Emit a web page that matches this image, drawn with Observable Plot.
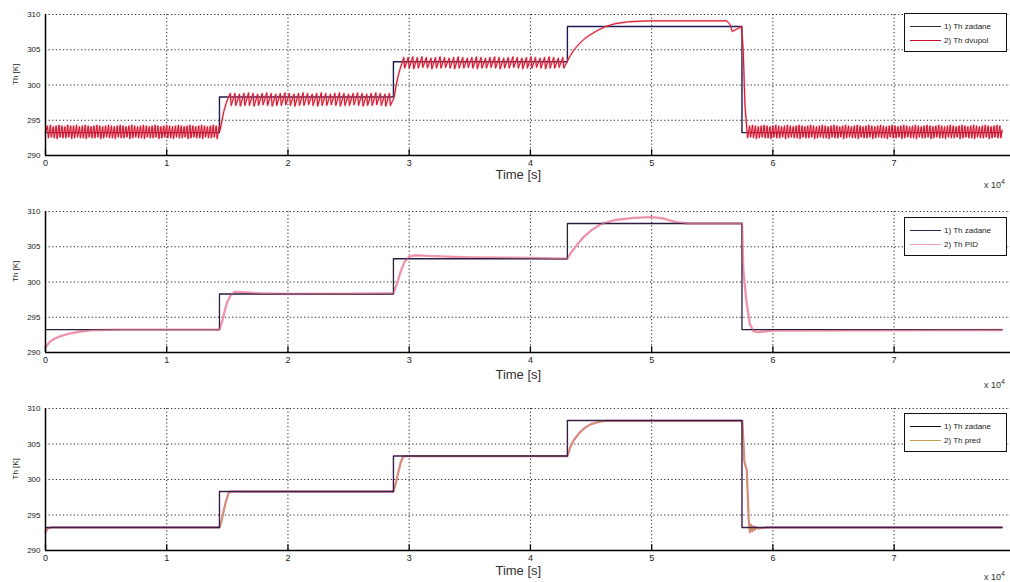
<!DOCTYPE html>
<html><head><meta charset="utf-8">
<script src="https://cdn.jsdelivr.net/npm/d3@7"></script>
<script src="https://cdn.jsdelivr.net/npm/@observablehq/plot@0.6"></script>
<style>
html,body{margin:0;padding:0;background:#fff;}
body{width:1010px;height:582px;overflow:hidden;font-family:"Liberation Sans",Arial,sans-serif;}
.panel{position:relative;width:1010px;}
.panel svg{display:block;}
.legend{position:absolute;left:904px;width:101px;height:37px;border:1.5px solid #111;background:#fff;font-size:8px;color:#222;}
.row{position:absolute;left:5px;height:10px;display:flex;align-items:center;}
.row span.ln{display:inline-block;width:31px;height:0;border-top:1.3px solid;margin-right:3px;}
.exp{position:absolute;left:984px;font-size:9px;color:#333;}
.exp sup{font-size:7px;}
</style></head>
<body>
<div id="p1" class="panel"></div>
<div id="p2" class="panel"></div>
<div id="p3" class="panel"></div>
<script>
// ---- axes / ticks ----
const xTicks = [0, 1, 2, 3, 4, 5, 6, 7];
const yTicks = [290, 295, 300, 305, 310];
const xDomain = [0, 7.96];
const yDomain = [290, 310];

// ---- setpoint "Th zadane" (step) ----
const setTimes  = [0, 1.435, 2.87, 4.305, 5.745, 7.89];
const setLevels = [293.25, 298.3, 303.3, 308.3, 293.25, 293.25];

// ---- panel 1: Th dvupol (on/off control), [time x1e4 s, K] ----
const dvupolLevel1 = [[0,293.3],[0.016,294.2],[0.024,292.5],[0.040,294.3],[0.048,292.6],[0.064,294.1],[0.072,292.5],[0.088,294.2],[0.096,292.4],[0.112,294.3],[0.120,292.6],[0.136,294.2],[0.144,292.5],[0.160,294.1],[0.168,292.5],[0.184,294.3],[0.192,292.6],[0.208,294.2],[0.216,292.4],[0.232,294.2],[0.240,292.5],[0.256,294.3],[0.264,292.6],[0.280,294.1],[0.288,292.5],[0.304,294.2],[0.312,292.5],[0.328,294.3],[0.336,292.4],[0.352,294.2],[0.360,292.6],[0.376,294.1],[0.384,292.5],[0.400,294.2],[0.408,292.5],[0.424,294.3],[0.432,292.6],[0.448,294.2],[0.456,292.4],[0.472,294.1],[0.480,292.5],[0.496,294.2],[0.504,292.6],[0.520,294.3],[0.528,292.5],[0.544,294.2],[0.552,292.5],[0.568,294.1],[0.576,292.4],[0.592,294.2],[0.600,292.6],[0.616,294.3],[0.624,292.5],[0.640,294.2],[0.648,292.5],[0.664,294.1],[0.672,292.6],[0.688,294.2],[0.696,292.4],[0.712,294.3],[0.720,292.5],[0.736,294.2],[0.744,292.6],[0.760,294.1],[0.768,292.5],[0.784,294.2],[0.792,292.5],[0.808,294.3],[0.816,292.4],[0.832,294.2],[0.840,292.6],[0.856,294.1],[0.864,292.5],[0.880,294.2],[0.888,292.5],[0.904,294.3],[0.912,292.6],[0.928,294.2],[0.936,292.4],[0.952,294.1],[0.960,292.5],[0.976,294.2],[0.984,292.6],[1.000,294.3],[1.008,292.5],[1.024,294.2],[1.032,292.5],[1.048,294.1],[1.056,292.4],[1.072,294.2],[1.080,292.6],[1.096,294.3],[1.104,292.5],[1.120,294.2],[1.128,292.5],[1.144,294.1],[1.152,292.6],[1.168,294.2],[1.176,292.4],[1.192,294.3],[1.200,292.5],[1.216,294.2],[1.224,292.6],[1.240,294.1],[1.248,292.5],[1.264,294.2],[1.272,292.5],[1.288,294.3],[1.296,292.4],[1.312,294.2],[1.320,292.6],[1.336,294.1],[1.344,292.5],[1.360,294.2],[1.368,292.5],[1.384,294.3],[1.392,292.6],[1.408,294.2],[1.416,292.4],[1.432,294.1]];
const dvupolLevel2 = [[1.440,293.6],[1.455,294.9],[1.470,296.2],[1.490,297.4],[1.510,298.3],[1.525,298.8],[1.532,297.1],[1.562,298.8],[1.570,297.1],[1.600,298.7],[1.607,297.0],[1.637,298.8],[1.645,297.1],[1.675,298.9],[1.682,297.1],[1.712,298.8],[1.720,297.0],[1.750,298.7],[1.757,297.1],[1.787,298.8],[1.795,297.2],[1.825,298.9],[1.832,297.1],[1.862,298.8],[1.870,297.0],[1.900,298.7],[1.907,297.1],[1.937,298.8],[1.945,297.1],[1.975,298.9],[1.982,297.2],[2.012,298.8],[2.020,297.1],[2.050,298.7],[2.057,297.0],[2.087,298.8],[2.095,297.1],[2.125,298.9],[2.132,297.1],[2.162,298.8],[2.170,297.2],[2.200,298.7],[2.207,297.1],[2.237,298.8],[2.245,297.0],[2.275,298.9],[2.282,297.1],[2.312,298.8],[2.320,297.1],[2.350,298.7],[2.357,297.2],[2.387,298.8],[2.395,297.1],[2.425,298.9],[2.432,297.0],[2.462,298.8],[2.470,297.1],[2.500,298.7],[2.507,297.1],[2.537,298.8],[2.545,297.2],[2.575,298.9],[2.582,297.1],[2.612,298.8],[2.620,297.0],[2.650,298.7],[2.657,297.1],[2.687,298.8],[2.695,297.1],[2.725,298.9],[2.732,297.2],[2.762,298.8],[2.770,297.1],[2.800,298.7],[2.807,297.0],[2.837,298.8],[2.845,297.1]];
const dvupolLevel3 = [[2.875,298.2],[2.890,299.7],[2.905,301.0],[2.925,302.3],[2.945,303.3],[2.955,303.9],[2.962,302.4],[2.992,303.9],[3.000,302.4],[3.030,304.0],[3.037,302.3],[3.067,303.9],[3.075,302.4],[3.105,304.0],[3.112,302.5],[3.142,303.9],[3.150,302.4],[3.180,303.8],[3.187,302.3],[3.217,303.9],[3.225,302.4],[3.255,304.0],[3.262,302.4],[3.292,303.9],[3.300,302.5],[3.330,303.8],[3.337,302.4],[3.367,303.9],[3.375,302.3],[3.405,304.0],[3.412,302.4],[3.442,303.9],[3.450,302.4],[3.480,303.8],[3.487,302.5],[3.517,303.9],[3.525,302.4],[3.555,304.0],[3.562,302.3],[3.592,303.9],[3.600,302.4],[3.630,303.8],[3.637,302.4],[3.667,303.9],[3.675,302.5],[3.705,304.0],[3.712,302.4],[3.742,303.9],[3.750,302.3],[3.780,303.8],[3.787,302.4],[3.817,303.9],[3.825,302.4],[3.855,304.0],[3.862,302.5],[3.892,303.9],[3.900,302.4],[3.930,303.8],[3.937,302.3],[3.967,303.9],[3.975,302.4],[4.005,304.0],[4.012,302.4],[4.042,303.9],[4.050,302.5],[4.080,303.8],[4.087,302.4],[4.117,303.9],[4.125,302.3],[4.155,304.0],[4.162,302.4],[4.192,303.9],[4.200,302.4],[4.230,303.8],[4.237,302.5],[4.267,303.9],[4.275,302.4]];
const dvupolLevel4 = [[4.305,303.4],[4.330,304.2],[4.360,305.0],[4.400,305.8],[4.450,306.6],[4.500,307.2],[4.560,307.8],[4.620,308.3],[4.700,308.7],[4.800,308.95],[4.900,309.05],[5.000,309.1],[5.300,309.1],[5.620,309.1],[5.645,308.6],[5.665,307.6],[5.700,307.9],[5.740,308.3],[5.755,305.0],[5.770,297.0],[5.785,293.8]];
const dvupolLevel5 = [[5.792,292.5],[5.808,294.2],[5.816,292.6],[5.832,294.3],[5.840,292.5],[5.856,294.2],[5.864,292.4],[5.880,294.1],[5.888,292.5],[5.904,294.2],[5.912,292.6],[5.928,294.3],[5.936,292.5],[5.952,294.2],[5.960,292.5],[5.976,294.1],[5.984,292.4],[6.000,294.2],[6.008,292.6],[6.024,294.3],[6.032,292.5],[6.048,294.2],[6.056,292.5],[6.072,294.1],[6.080,292.6],[6.096,294.2],[6.104,292.4],[6.120,294.3],[6.128,292.5],[6.144,294.2],[6.152,292.6],[6.168,294.1],[6.176,292.5],[6.192,294.2],[6.200,292.5],[6.216,294.3],[6.224,292.4],[6.240,294.2],[6.248,292.6],[6.264,294.1],[6.272,292.5],[6.288,294.2],[6.296,292.5],[6.312,294.3],[6.320,292.6],[6.336,294.2],[6.344,292.4],[6.360,294.1],[6.368,292.5],[6.384,294.2],[6.392,292.6],[6.408,294.3],[6.416,292.5],[6.432,294.2],[6.440,292.5],[6.456,294.1],[6.464,292.4],[6.480,294.2],[6.488,292.6],[6.504,294.3],[6.512,292.5],[6.528,294.2],[6.536,292.5],[6.552,294.1],[6.560,292.6],[6.576,294.2],[6.584,292.4],[6.600,294.3],[6.608,292.5],[6.624,294.2],[6.632,292.6],[6.648,294.1],[6.656,292.5],[6.672,294.2],[6.680,292.5],[6.696,294.3],[6.704,292.4],[6.720,294.2],[6.728,292.6],[6.744,294.1],[6.752,292.5],[6.768,294.2],[6.776,292.5],[6.792,294.3],[6.800,292.6],[6.816,294.2],[6.824,292.4],[6.840,294.1],[6.848,292.5],[6.864,294.2],[6.872,292.6],[6.888,294.3],[6.896,292.5],[6.912,294.2],[6.920,292.5],[6.936,294.1],[6.944,292.4],[6.960,294.2],[6.968,292.6],[6.984,294.3],[6.992,292.5],[7.008,294.2],[7.016,292.5],[7.032,294.1],[7.040,292.6],[7.056,294.2],[7.064,292.4],[7.080,294.3],[7.088,292.5],[7.104,294.2],[7.112,292.6],[7.128,294.1],[7.136,292.5],[7.152,294.2],[7.160,292.5],[7.176,294.3],[7.184,292.4],[7.200,294.2],[7.208,292.6],[7.224,294.1],[7.232,292.5],[7.248,294.2],[7.256,292.5],[7.272,294.3],[7.280,292.6],[7.296,294.2],[7.304,292.4],[7.320,294.1],[7.328,292.5],[7.344,294.2],[7.352,292.6],[7.368,294.3],[7.376,292.5],[7.392,294.2],[7.400,292.5],[7.416,294.1],[7.424,292.4],[7.440,294.2],[7.448,292.6],[7.464,294.3],[7.472,292.5],[7.488,294.2],[7.496,292.5],[7.512,294.1],[7.520,292.6],[7.536,294.2],[7.544,292.4],[7.560,294.3],[7.568,292.5],[7.584,294.2],[7.592,292.6],[7.608,294.1],[7.616,292.5],[7.632,294.2],[7.640,292.5],[7.656,294.3],[7.664,292.4],[7.680,294.2],[7.688,292.6],[7.704,294.1],[7.712,292.5],[7.728,294.2],[7.736,292.5],[7.752,294.3],[7.760,292.6],[7.776,294.2],[7.784,292.4],[7.800,294.1],[7.808,292.5],[7.824,294.2],[7.832,292.6],[7.848,294.3],[7.856,292.5],[7.872,294.2],[7.880,292.5],[7.890,293.6]];

// ---- panel 2: Th PID ----
const pidTimes  = [0,0.04,0.08,0.12,0.18,0.26,0.37,0.6,1.0,1.435,1.46,1.48,1.50,1.53,1.56,1.62,1.75,2.0,2.5,2.87,2.90,2.93,2.96,3.00,3.05,3.15,3.5,4.0,4.305,4.34,4.40,4.44,4.50,4.58,4.70,4.85,5.0,5.10,5.2,5.3,5.745,5.757,5.78,5.81,5.84,5.88,6.0,7.89];
const pidValues = [290.75,291.6,292.0,292.3,292.6,292.9,293.15,293.25,293.25,293.25,294.6,296.0,297.2,298.2,298.6,298.55,298.4,298.3,298.35,298.4,299.8,301.5,302.8,303.6,303.8,303.7,303.5,303.4,303.3,304.3,305.6,306.4,307.3,308.2,308.8,309.1,309.2,309.0,308.5,308.3,308.3,301.5,297.5,294.0,293.0,292.9,293.1,293.2];

// ---- panel 3: Th pred (predictive control) ----
const predTimes  = [0,0.02,0.05,1.435,1.45,1.47,1.49,1.51,1.53,2.87,2.89,2.91,2.93,2.95,2.97,4.305,4.33,4.36,4.40,4.45,4.50,4.56,4.62,5.748,5.765,5.785,5.80,5.81,5.82,5.83,5.84,5.85,5.86,5.88,5.95,7.89];
const predValues = [292.6,293.1,293.25,293.25,294.0,295.6,297.0,298.1,298.3,298.3,299.5,301.0,302.4,303.2,303.3,303.3,304.6,305.6,306.5,307.3,307.8,308.1,308.25,308.25,302.5,301.3,294.5,292.6,293.6,292.7,293.4,292.9,293.3,293.1,293.25,293.25];

// ---- legends ----
const legend1 = [["1) Th zadane", "#30304a"], ["2) Th dvupol", "#c8102a"]];
const legend2 = [["1) Th zadane", "#2a2a55"], ["2) Th PID", "#f29ab0"]];
const legend3 = [["1) Th zadane", "#111111"], ["2) Th pred", "#c9a24e"]];

const setpoint = d3.zip(setTimes, setLevels);
const dvupol = [].concat(dvupolLevel1, dvupolLevel2, dvupolLevel3, dvupolLevel4, dvupolLevel5);
const pid = d3.zip(pidTimes, pidValues);
const pred = d3.zip(predTimes, predValues);

const FONT = '"Liberation Sans", Arial, sans-serif';

function makePanel(el, cfg) {
  const frameMarks = [
    Plot.ruleX(xTicks.filter(d => d > 0), {x: d => d, stroke: "#222", strokeWidth: 1, strokeDasharray: "1.2,2.4"}),
    Plot.ruleY(yTicks.filter(d => d > 290), {y: d => d, stroke: "#222", strokeWidth: 1, strokeDasharray: "1.2,2.4"}),
  ];
  const axisMarks = [
    Plot.ruleY([yDomain[0]], {stroke: "#000", strokeWidth: 1.5}),
    Plot.ruleX([xDomain[0]], {stroke: "#000", strokeWidth: 1.5}),
    Plot.ruleX(xTicks, {x: d => d, y1: yDomain[0], y2: yDomain[0] + 0.8, stroke: "#000", strokeWidth: 1.3}),
    Plot.text(xTicks, {x: d => d, frameAnchor: "bottom", dy: 10, text: d => String(d), fontSize: 9, fill: "#222"}),
    Plot.text(yTicks, {y: d => d, frameAnchor: "left", dx: -5, textAnchor: "end", text: d => String(d), fontSize: 8, fill: "#222"}),
    Plot.text(["Th [K]"], {frameAnchor: "left", dx: -30, rotate: -90, fontSize: 8, fill: "#222"}),
    Plot.text(["Time [s]"], {x: 3.9, frameAnchor: "bottom", dy: cfg.timeDy, fontSize: 13, fill: "#333"})
  ];
  const svg = Plot.plot({
    width: 1010, height: cfg.height,
    marginLeft: 45, marginRight: 0, marginTop: cfg.mt, marginBottom: cfg.mb,
    x: {domain: xDomain, axis: null},
    y: {domain: yDomain, axis: null},
    style: {fontFamily: FONT, background: "#fff", overflow: "visible"},
    marks: [...frameMarks, ...cfg.lines, ...axisMarks]
  });
  el.appendChild(svg);
  const lg = document.createElement("div");
  lg.className = "legend";
  lg.style.top = cfg.legendTop + "px";
  cfg.legend.forEach(([label, color], i) => {
    const r = document.createElement("div");
    r.className = "row";
    r.style.top = (7 + i * 14) + "px";
    const ln = document.createElement("span");
    ln.className = "ln"; ln.style.borderTopColor = color;
    r.appendChild(ln);
    r.appendChild(document.createTextNode(label));
    lg.appendChild(r);
  });
  el.appendChild(lg);
  const ex = document.createElement("div");
  ex.className = "exp";
  ex.style.top = cfg.expTop + "px";
  ex.innerHTML = "x 10<sup>4</sup>";
  el.appendChild(ex);
}

makePanel(document.getElementById("p1"), {
  height: 190, mt: 14, mb: 35, timeDy: 23, legendTop: 13, expTop: 178,
  legend: legend1,
  lines: [
    Plot.line(setpoint, {x: d => d[0], y: d => d[1], curve: "step-after", stroke: "#1c1c50", strokeWidth: 1.4}),
    Plot.line(dvupol, {x: d => d[0], y: d => d[1], stroke: "#f07080", strokeWidth: 2.2, strokeOpacity: 0.5}),
    Plot.line(dvupol, {x: d => d[0], y: d => d[1], stroke: "#d4102a", strokeWidth: 1})
  ]
});
makePanel(document.getElementById("p2"), {
  height: 200, mt: 21, mb: 38, timeDy: 26, legendTop: 27, expTop: 188,
  legend: legend2,
  lines: [
    Plot.line(pid, {x: d => d[0], y: d => d[1], stroke: "#f29ab0", strokeWidth: 2.4}),
    Plot.line(setpoint, {x: d => d[0], y: d => d[1], curve: "step-after", stroke: "#2a1d3e", strokeWidth: 1.3}),
    Plot.line(pid, {x: d => d[0], y: d => d[1], stroke: "#e88aa6", strokeWidth: 1, strokeOpacity: 0.7})
  ]
});
makePanel(document.getElementById("p3"), {
  height: 192, mt: 18, mb: 32, timeDy: 24, legendTop: 23, expTop: 180,
  legend: legend3,
  lines: [
    Plot.line(pred, {x: d => d[0], y: d => d[1], stroke: "#e07aa0", strokeWidth: 2.2}),
    Plot.line(pred, {x: d => d[0], y: d => d[1], stroke: "#c9a24e", strokeWidth: 1}),
    Plot.line(setpoint, {x: d => d[0], y: d => d[1], curve: "step-after", stroke: "#3a1d48", strokeWidth: 1.4})
  ]
});
</script>
</body></html>
